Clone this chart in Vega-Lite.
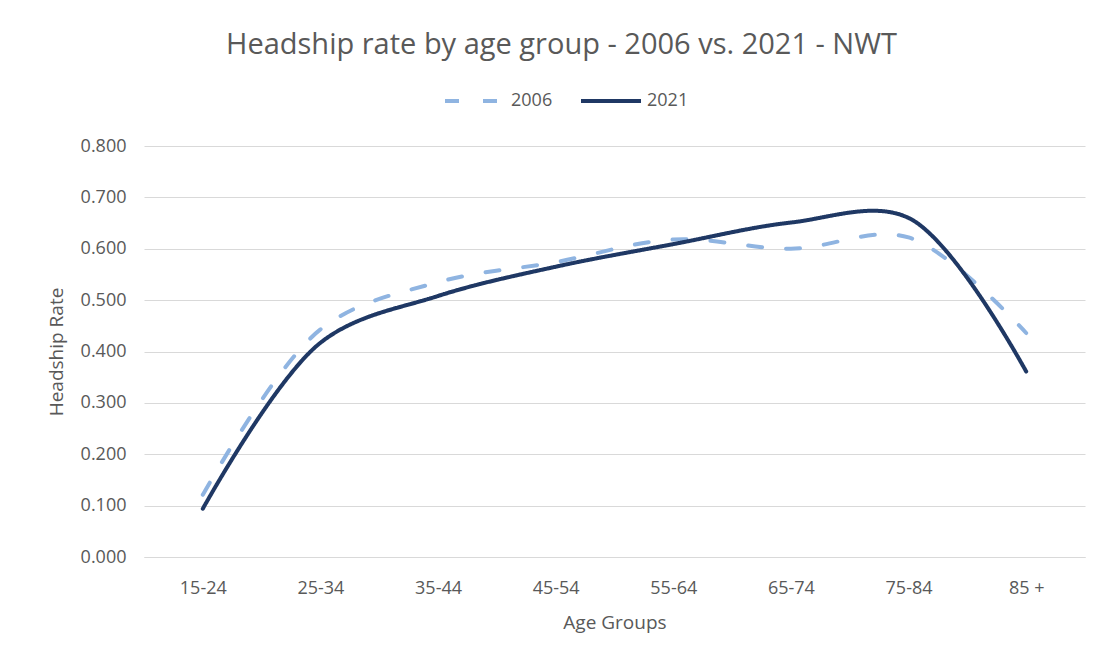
{
  "$schema": "https://vega.github.io/schema/vega-lite/v6.json",
  "width": 941,
  "height": 411,
  "autosize": "none",
  "padding": {"left": 144, "top": 146, "right": 14, "bottom": 104},
  "background": "white",
  "view": {"stroke": null},
  "title": {
    "text": "Headship rate by age group - 2006 vs. 2021 - NWT",
    "font": "Open Sans",
    "fontSize": 29,
    "fontWeight": "normal",
    "color": "#595959",
    "anchor": "middle",
    "frame": "group",
    "offset": 39,
    "dx": -53,
    "dy": 30
  },
  "data": {
    "values": [
      {"age": "15-24", "year": "2006", "rate": 0.121},
      {"age": "25-34", "year": "2006", "rate": 0.443},
      {"age": "35-44", "year": "2006", "rate": 0.535},
      {"age": "45-54", "year": "2006", "rate": 0.574},
      {"age": "55-64", "year": "2006", "rate": 0.618},
      {"age": "65-74", "year": "2006", "rate": 0.600},
      {"age": "75-84", "year": "2006", "rate": 0.622},
      {"age": "85 +", "year": "2006", "rate": 0.436},
      {"age": "15-24", "year": "2021", "rate": 0.094},
      {"age": "25-34", "year": "2021", "rate": 0.417},
      {"age": "35-44", "year": "2021", "rate": 0.508},
      {"age": "45-54", "year": "2021", "rate": 0.565},
      {"age": "55-64", "year": "2021", "rate": 0.609},
      {"age": "65-74", "year": "2021", "rate": 0.651},
      {"age": "75-84", "year": "2021", "rate": 0.660},
      {"age": "85 +", "year": "2021", "rate": 0.361}
    ]
  },
  "mark": {"type": "line", "interpolate": "catmull-rom", "strokeWidth": 4, "strokeCap": "round"},
  "encoding": {
    "x": {
      "field": "age",
      "type": "ordinal",
      "sort": null,
      "scale": {"type": "point", "padding": 0.5},
      "axis": {
        "title": "Age Groups",
        "labelAngle": 0,
        "ticks": false,
        "grid": false,
        "domainColor": "#d9d9d9",
        "domainWidth": 1,
        "labelPadding": 22,
        "labelFont": "Open Sans",
        "labelFontSize": 18,
        "labelColor": "#595959",
        "titleFont": "Open Sans",
        "titleFontSize": 19,
        "titleFontWeight": "normal",
        "titleColor": "#595959",
        "titlePadding": 16
      }
    },
    "y": {
      "field": "rate",
      "type": "quantitative",
      "scale": {"domain": [0, 0.8], "nice": false},
      "axis": {
        "title": "Headship Rate",
        "values": [0, 0.1, 0.2, 0.3, 0.4, 0.5, 0.6, 0.7, 0.8],
        "format": ".3f",
        "domain": false,
        "ticks": false,
        "gridColor": "#d9d9d9",
        "gridWidth": 1,
        "labelPadding": 18,
        "labelFont": "Open Sans",
        "labelFontSize": 18,
        "labelColor": "#595959",
        "titleFont": "Open Sans",
        "titleFontSize": 19,
        "titleFontWeight": "normal",
        "titleColor": "#595959",
        "titlePadding": 14
      }
    },
    "color": {
      "field": "year",
      "type": "nominal",
      "scale": {"domain": ["2006", "2021"], "range": ["#8FB4E1", "#1F3864"]},
      "legend": {
        "orient": "none",
        "legendX": 299,
        "legendY": -77,
        "direction": "horizontal",
        "title": null,
        "symbolType": "stroke",
        "symbolSize": 3600,
        "symbolStrokeWidth": 4,
        "labelFont": "Open Sans",
        "labelFontSize": 18,
        "labelColor": "#595959",
        "labelOffset": 4,
        "columnPadding": 20
      }
    },
    "strokeDash": {
      "field": "year",
      "type": "nominal",
      "scale": {"domain": ["2006", "2021"], "range": [[14, 24], [1, 0]]},
      "legend": {
        "orient": "none",
        "legendX": 299,
        "legendY": -77,
        "direction": "horizontal",
        "title": null,
        "symbolType": "stroke",
        "symbolSize": 3600,
        "symbolStrokeWidth": 4,
        "labelFont": "Open Sans",
        "labelFontSize": 18,
        "labelColor": "#595959",
        "labelOffset": 4,
        "columnPadding": 20
      }
    }
  }
}
